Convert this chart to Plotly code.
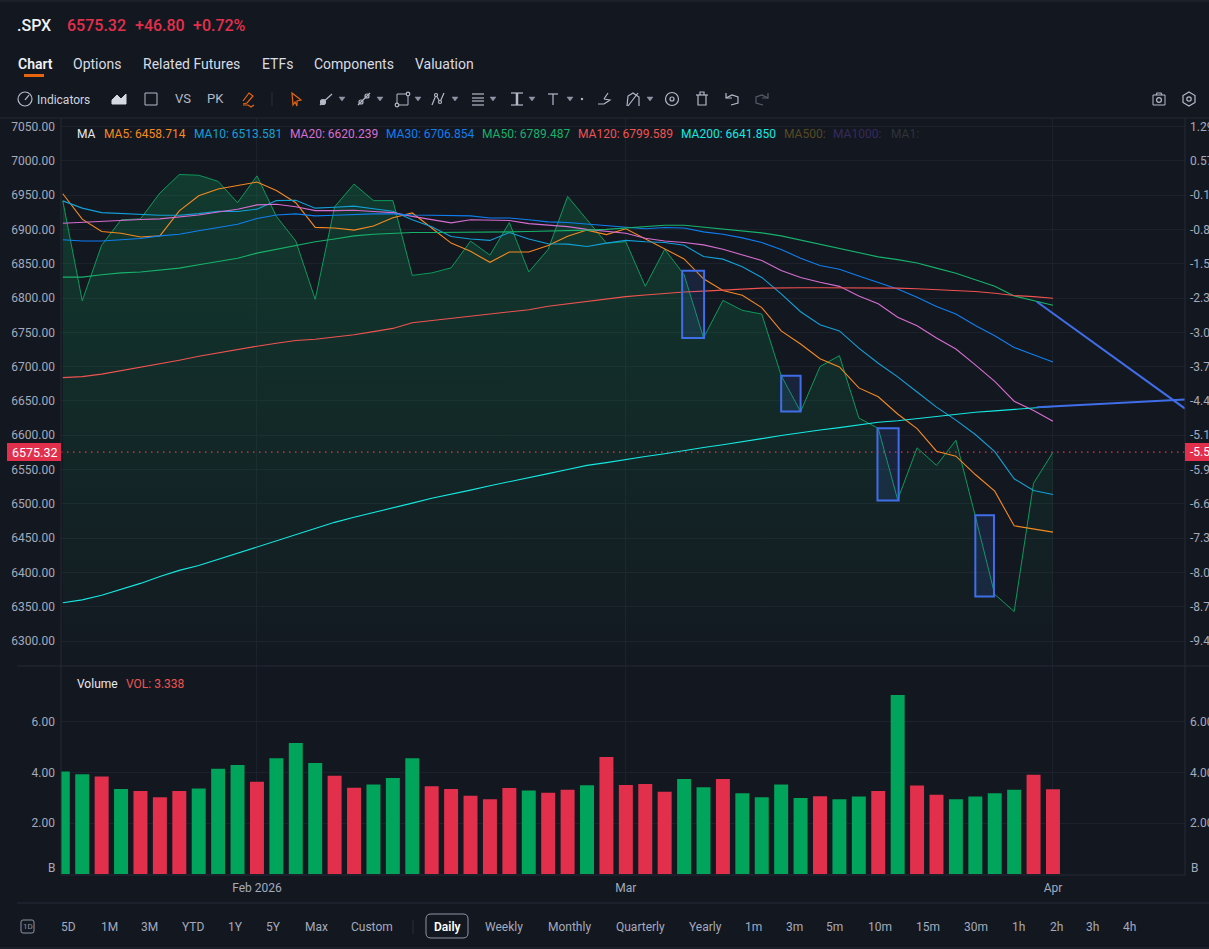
import plotly.graph_objects as go
from plotly.subplots import make_subplots

# handelstage, 16. jan bis 1. apr 2026
dates = ["2026-01-16", "2026-01-20", "2026-01-21", "2026-01-22", "2026-01-23", "2026-01-26", "2026-01-27", "2026-01-28",
         "2026-01-29", "2026-01-30", "2026-02-02", "2026-02-03", "2026-02-04", "2026-02-05", "2026-02-06", "2026-02-09",
         "2026-02-10", "2026-02-11", "2026-02-12", "2026-02-13", "2026-02-17", "2026-02-18", "2026-02-19", "2026-02-20",
         "2026-02-23", "2026-02-24", "2026-02-25", "2026-02-26", "2026-02-27", "2026-03-02", "2026-03-03", "2026-03-04",
         "2026-03-05", "2026-03-06", "2026-03-09", "2026-03-10", "2026-03-11", "2026-03-12", "2026-03-13", "2026-03-16",
         "2026-03-17", "2026-03-18", "2026-03-19", "2026-03-20", "2026-03-23", "2026-03-24", "2026-03-25", "2026-03-26",
         "2026-03-27", "2026-03-30", "2026-03-31", "2026-04-01"]

close = [6941.6, 6796, 6877, 6914, 6915.4, 6953, 6980, 6979, 6970, 6939, 6978, 6919, 6883, 6798, 6933, 6966, 6942, 6942,
         6833, 6836.6, 6844, 6883, 6862.5, 6910, 6838, 6871, 6948, 6914, 6880, 6882, 6817, 6871, 6834, 6742, 6796.5, 6782,
         6776.6, 6687, 6634.4, 6700, 6716, 6625, 6610, 6506, 6581.6, 6556, 6592.7, 6482, 6368, 6343, 6530, 6575.32]
ma5 = [6952, 6915, 6897, 6894.5, 6889, 6890.6, 6927, 6949, 6959, 6964, 6969, 6956.6, 6939, 6903, 6902, 6899, 6905, 6917,
       6924, 6902, 6880, 6868, 6852, 6867, 6867, 6876.5, 6890, 6899, 6892.5, 6901, 6886, 6872, 6857, 6828, 6811, 6804,
       6786, 6752, 6733, 6711.6, 6699.5, 6669, 6656, 6631, 6609.7, 6576.7, 6569.5, 6542.7, 6518.4, 6468, 6463.6, 6458.714]
ma10 = [6941.6, 6931, 6924.5, 6923, 6922.6, 6920.7, 6920.7, 6923, 6926.5, 6926, 6929.5, 6942, 6942.6, 6931, 6932.4, 6934,
        6930, 6926.5, 6914, 6904, 6889.6, 6886, 6884, 6895.5, 6886, 6879, 6878.5, 6875, 6880, 6884, 6882, 6881, 6877,
        6860.5, 6856.7, 6845.7, 6830, 6806, 6780, 6761, 6752, 6727, 6705, 6685, 6663, 6641, 6622, 6601, 6576, 6536.5,
        6519.5, 6513.581]
ma20 = [6909, 6910.5, 6911.5, 6914, 6914.4, 6915.4, 6918, 6921, 6925.5, 6929.5, 6935.7, 6936.7, 6933, 6927.4, 6927.4, 6928,
        6926, 6924.5, 6919, 6914, 6909.5, 6914, 6913.5, 6913, 6908.5, 6906, 6904, 6900, 6897, 6894.5, 6887, 6883, 6881,
        6877.5, 6871, 6863, 6854.7, 6840, 6830, 6823, 6817, 6803, 6791.6, 6772, 6759.6, 6741.7, 6725.6, 6702.6, 6678.5,
        6649.6, 6636, 6620.239]
ma30 = [6885, 6883, 6883, 6884.5, 6886.7, 6890.6, 6893, 6898, 6903, 6907.6, 6916, 6921, 6922.6, 6919.7, 6920.7, 6922,
        6922.6, 6922.6, 6921, 6920.7, 6920, 6919.7, 6916.7, 6916.7, 6914, 6911, 6910, 6908, 6906, 6903.6, 6901, 6902.7,
        6902, 6896.4, 6893, 6887.7, 6881, 6870.7, 6858, 6847.4, 6842, 6832, 6822.7, 6813, 6801, 6787.7, 6776.6, 6760,
        6745, 6728, 6717.4, 6706.854]
ma50 = [6830.5, 6830.5, 6834, 6836.7, 6838, 6840.6, 6843.6, 6848.4, 6853, 6858, 6865.4, 6871, 6877, 6882, 6886, 6890.6,
        6893, 6894.5, 6895.5, 6895.5, 6895.5, 6896, 6896, 6896.4, 6897, 6897.5, 6897.5, 6899, 6900, 6902, 6904, 6906, 6906,
        6903, 6901, 6898, 6895, 6890.6, 6884.5, 6879, 6873, 6866.6, 6860, 6856, 6851, 6843.6, 6836, 6826.6, 6817, 6803,
        6796, 6789.487]
ma120 = [6684, 6685.4, 6689, 6694, 6698.5, 6704, 6709.4, 6715, 6720.3, 6724.7, 6729.8, 6734, 6738, 6740, 6743, 6746.5, 6751,
         6755.7, 6764, 6767, 6771, 6773.6, 6777, 6780, 6783, 6788, 6791.6, 6795.5, 6799, 6802, 6804.4, 6807, 6808.7, 6810,
         6812, 6813, 6814.4, 6815, 6815, 6815, 6815, 6815, 6815, 6814.4, 6813.4, 6812.4, 6811, 6809.6, 6807, 6803.7, 6802,
         6799.589]
ma200 = [6355.7, 6360, 6366.6, 6375.3, 6384, 6394, 6403, 6410, 6419, 6428, 6438, 6447, 6455.4, 6464, 6473, 6480.5, 6487,
         6494.6, 6501, 6508, 6513.7, 6520, 6526.4, 6532, 6538, 6544, 6550, 6556, 6560, 6565, 6569, 6573, 6578, 6582, 6586,
         6591, 6595, 6599.5, 6604, 6607.5, 6611, 6614.5, 6619, 6621, 6624, 6628, 6630.6, 6633.5, 6635.5, 6637.4, 6640,
         6641.85]

volume = [4.04, 3.93, 3.84, 3.35, 3.27, 3.02, 3.27, 3.37, 4.14, 4.29, 3.63, 4.56, 5.16, 4.37, 3.87, 3.40, 3.52, 3.78, 4.56,
          3.45, 3.35, 3.08, 2.94, 3.39, 3.29, 3.20, 3.32, 3.49, 4.61, 3.50, 3.54, 3.24, 3.74, 3.42, 3.74, 3.18, 3.02, 3.52,
          2.99, 3.06, 2.94, 3.05, 3.27, 7.05, 3.48, 3.12, 2.94, 3.05, 3.18, 3.32, 3.91, 3.338]
vol_side = list("GGRGRRRGGGRGGGRRGGGRRRRRGRRG" + "RRRRGGRGGGGRGGRGRRGGGGRR")

price_ticks = [7050, 7000, 6950, 6900, 6850, 6800, 6750, 6700, 6650, 6600, 6550, 6500, 6450, 6400, 6350, 6300]
pct_labels = ["1.29%", "0.57%", "-0.15%", "-0.86%", "-1.58%", "-2.30%", "-3.02%", "-3.74%", "-4.46%", "-5.17%", "-5.90%",
              "-6.61%", "-7.33%", "-8.05%", "-8.77%", "-9.48%"]
vol_ticks = [2, 4, 6]
last_pct = "-5.53%"

# eingezeichnete kästen und trendlinien
box_start = [31.9, 37.0, 41.96, 47.0]
box_end = [33.03, 38.0, 43.05, 47.96]
box_top = [6839.7, 6686.8, 6610, 6483.5]
box_bottom = [6741.7, 6634.5, 6504.9, 6365]
trend_x = [[50.17, 57.8], [50.17, 57.8]]
trend_y = [[6794.5, 6638.8], [6640.7, 6652]]

# legende
ma_names = ["MA5", "MA10", "MA20", "MA30", "MA50", "MA120", "MA200"]
ma_series = [ma5, ma10, ma20, ma30, ma50, ma120, ma200]
ma_colors = ["#f58a1f", "#12a0d7", "#d66ed1", "#0f7ff0", "#16b26b", "#ef5350", "#14e9e2"]
ma_label_x = [104, 194, 290, 386, 482, 578, 681]
off_names = ["MA500:", "MA1000:", "MA1:"]
off_colors = ["#574a22", "#352b5c", "#30333a"]
off_label_x = [784, 833, 891]

tabs = ["Chart", "Options", "Related Futures", "ETFs", "Components", "Valuation"]
tab_x = [18, 73, 143, 262, 314, 415]
ranges = ["5D", "1M", "3M", "YTD", "1Y", "5Y", "Max", "Custom", "Daily", "Weekly", "Monthly", "Quarterly", "Yearly",
          "1m", "3m", "5m", "10m", "15m", "30m", "1h", "2h", "3h", "4h"]
range_x = [68, 109, 149, 193, 235, 273, 316, 372, 447, 504, 569, 640, 705, 753, 794, 835, 880, 928, 976, 1018, 1056, 1092, 1129]

BG = "#131720"
GRID = "#1c212b"
EDGE = "#262b36"
TEXT = "#a3abbd"
RED = "#e2304c"
GREEN = "#00a45a"
BLUE = "#3f6ee8"
ORANGE = "#e8650f"

W, H = 1209, 949
L, R, T, B = 61, 1185, 118, 875
SPLIT = 666

bar_index = list(range(len(dates)))
tick_pos = [dates.index("2026-02-02"), dates.index("2026-03-02"), dates.index("2026-04-01")]
x_range = [-0.093, 57.8]
y_range = [6263.6, 7062.4]
v_range = [-0.04, 8.19]


def px(x):
    return (x - L) / (R - L)


def py(y):
    return (B - y) / (B - T)


def text(s, x, y, color=TEXT, size=12, anchor="left", weight=None):
    return dict(text=s, x=px(x), y=py(y), xref="paper", yref="paper", xanchor=anchor, yanchor="middle", showarrow=False,
                borderpad=0, borderwidth=0, font=dict(color=color, size=size, family="Roboto", weight=weight))


def poly(points, color=TEXT, width=1.2, fill=None, closed=False):
    d = "M " + " L ".join(f"{px(a):.5f},{py(b):.5f}" for a, b in points) + (" Z" if closed else "")
    return dict(type="path", path=d, xref="paper", yref="paper", line=dict(color=color, width=width),
                fillcolor=fill or "rgba(0,0,0,0)", layer="above")


def rect(x0, y0, x1, y1, color=None, fill=None, width=1):
    return dict(type="rect", x0=px(x0), x1=px(x1), y0=py(y0), y1=py(y1), xref="paper", yref="paper",
                line=dict(color=color or "rgba(0,0,0,0)", width=width), fillcolor=fill or "rgba(0,0,0,0)", layer="above")


def round_rect(x0, y0, x1, y1, r, color):
    p = lambda a, b: f"{px(a):.5f},{py(b):.5f}"
    d = (f"M {p(x0 + r, y0)} L {p(x1 - r, y0)} Q {p(x1, y0)} {p(x1, y0 + r)} L {p(x1, y1 - r)} Q {p(x1, y1)} {p(x1 - r, y1)} "
         f"L {p(x0 + r, y1)} Q {p(x0, y1)} {p(x0, y1 - r)} L {p(x0, y0 + r)} Q {p(x0, y0)} {p(x0 + r, y0)} Z")
    return dict(type="path", path=d, xref="paper", yref="paper", line=dict(color=color, width=1), layer="above")


def circle(cx, cy, r, color=TEXT, fill=None, width=1.2):
    return dict(type="circle", x0=px(cx - r), x1=px(cx + r), y0=py(cy + r), y1=py(cy - r), xref="paper", yref="paper",
                line=dict(color=color, width=width), fillcolor=fill or "rgba(0,0,0,0)", layer="above")


def caret(x, y=99):
    return poly([(x - 3, y - 2), (x + 3, y - 2), (x, y + 2)], color="#8d95a6", width=0.5, fill="#8d95a6", closed=True)


fig = make_subplots(rows=2, cols=1, shared_xaxes=True, vertical_spacing=0, row_heights=[SPLIT - T, B - SPLIT],
                    specs=[[{"secondary_y": True}], [{"secondary_y": True}]])

# fläche unter dem kurs
fig.add_trace(go.Scatter(x=bar_index, y=[y_range[0]] * len(bar_index), mode="lines", line=dict(width=0), hoverinfo="skip"),
              row=1, col=1)
fig.add_trace(go.Scatter(x=bar_index, y=close, mode="lines", name=".SPX", line=dict(color="#0b9a5b", width=1), fill="tonexty",
                         fillgradient=dict(type="vertical", start=6980, stop=y_range[0],
                                           colorscale=[[0, "rgba(14,160,90,0.26)"], [0.5, "rgba(14,160,90,0.13)"],
                                                       [1, "rgba(14,160,90,0.01)"]])),
              row=1, col=1)

for name, series, color in zip(ma_names, ma_series, ma_colors):
    fig.add_trace(go.Scatter(x=bar_index, y=series, mode="lines", name=name, line=dict(color=color, width=1.1)), row=1, col=1)

for xs, ys in zip(trend_x, trend_y):
    fig.add_trace(go.Scatter(x=xs, y=ys, mode="lines", line=dict(color=BLUE, width=2), hoverinfo="skip"), row=1, col=1)

# leere spuren, damit die rechten achsen gezeichnet werden
fig.add_trace(go.Scatter(x=bar_index, y=close, mode="lines", line=dict(width=0), hoverinfo="skip"), row=1, col=1, secondary_y=True)

fig.add_trace(go.Bar(x=bar_index, y=volume, name="Volume", marker=dict(color=[GREEN if s == "G" else RED for s in vol_side],
                                                                       line=dict(width=0))), row=2, col=1)
fig.add_trace(go.Scatter(x=bar_index, y=volume, mode="lines", line=dict(width=0), hoverinfo="skip"), row=2, col=1, secondary_y=True)

axis_font = dict(color=TEXT, size=12, family="Roboto")
fig.update_xaxes(domain=[0, 1], range=x_range, tickvals=tick_pos, ticktext=["Feb 2026", "Mar", "Apr"], showgrid=True, gridcolor=GRID,
                 gridwidth=1, zeroline=False, ticks="", tickfont=axis_font, showline=False, ticklabelstandoff=4)
fig.update_yaxes(range=y_range, tickvals=price_ticks, ticktext=[f"{p:.2f}" for p in price_ticks], gridcolor=GRID, zeroline=False,
                 tickfont=axis_font, ticks="", ticklabelstandoff=5, row=1, col=1, secondary_y=False)
fig.update_yaxes(range=y_range, tickvals=price_ticks, ticktext=pct_labels, showgrid=False, zeroline=False, tickfont=axis_font,
                 ticks="", ticklabelstandoff=4, row=1, col=1, secondary_y=True)
fig.update_yaxes(range=v_range, tickvals=vol_ticks, ticktext=[f"{v:.2f}" for v in vol_ticks], gridcolor=GRID, zeroline=False,
                 tickfont=axis_font, ticks="", ticklabelstandoff=5, row=2, col=1, secondary_y=False)
fig.update_yaxes(range=v_range, tickvals=vol_ticks, ticktext=[f"{v:.2f}" for v in vol_ticks], showgrid=False, zeroline=False,
                 tickfont=axis_font, ticks="", ticklabelstandoff=4, row=2, col=1, secondary_y=True)

shapes = []
for x0, x1, y0, y1 in zip(box_start, box_end, box_top, box_bottom):
    shapes.append(dict(type="rect", xref="x", yref="y", x0=x0, x1=x1, y0=y0, y1=y1, line=dict(color=BLUE, width=2),
                       fillcolor="rgba(63,110,232,0.14)", layer="above"))
shapes.append(dict(type="line", xref="x", yref="y", x0=x_range[0], x1=x_range[1], y0=close[-1], y1=close[-1],
                   line=dict(color="#f0304e", width=1.2, dash="1.5px,4.5px"), layer="above"))

# rahmen
shapes += [
    poly([(0, 1), (W, 1)], EDGE, 1), poly([(0, T), (W, T)], EDGE, 1), poly([(17, SPLIT), (W, SPLIT)], EDGE, 1),
    poly([(L, B), (R, B)], EDGE, 1), poly([(17, 903), (W, 903)], EDGE, 1), poly([(L, T), (L, B)], EDGE, 1),
    poly([(R, T), (R, B)], EDGE, 1), poly([(0, 948), (W, 948)], EDGE, 1),
    rect(24, 74, 44, 77, fill=ORANGE),
    rect(7, 443, L, 461, fill=RED), rect(R, 443, W, 461, fill=RED),
]

# werkzeugleiste
IC = "#b4bac7"
shapes += [
    circle(25, 99, 7, IC), poly([(25, 100), (29, 95)], IC),
    poly([(112, 104), (112, 100), (117, 95), (121, 99), (126, 94), (126, 104)], "#d5d9e2", 1, "#d5d9e2", True),
    rect(145, 93, 157, 105, IC),
    poly([(243, 105), (248, 105), (251, 107), (254, 105)], ORANGE), poly([(243, 101), (249, 93), (253, 96), (247, 103), (243, 104)], ORANGE),
    poly([(272, 92), (272, 106)], EDGE),
    poly([(292, 93), (301, 100), (297, 101), (297, 106), (295, 102), (293, 105)], ORANGE, 1.2, None, True),
    poly([(320, 105), (332, 94)], IC), circle(323, 102, 2.5, IC, IC), caret(342),
    poly([(358, 105), (370, 93)], IC), circle(361, 102, 2, IC), circle(367, 96, 2, IC), caret(380),
    rect(397, 94, 408, 105, IC), circle(397, 105, 1.8, IC, BG), circle(408, 94, 1.8, IC, BG), caret(418),
    poly([(432, 105), (436, 95), (440, 102), (444, 93)], IC), circle(436, 95, 1.5, IC, BG), circle(440, 102, 1.5, IC, BG), caret(455),
    poly([(472, 94), (484, 94)], IC), poly([(472, 98), (484, 98)], IC), poly([(472, 101), (484, 101)], IC), poly([(472, 105), (484, 105)], IC), caret(493),
    poly([(511, 93), (523, 93)], IC), poly([(511, 105), (523, 105)], IC), poly([(517, 93), (517, 105)], IC, 2.5), caret(532),
    poly([(548, 94), (558, 94)], IC), poly([(553, 94), (553, 105)], IC), caret(570),
    circle(582, 99, 0.6, IC, IC),
    poly([(598, 104), (604, 104), (610, 100), (604, 99)], IC), poly([(604, 99), (608, 93)], IC), caret(650),
    poly([(627, 106), (628, 96), (633, 93), (639, 97), (639, 106)], IC), poly([(628, 106), (638, 93)], IC),
    circle(672, 99, 6.5, IC), circle(672, 99, 2, IC),
    poly([(696, 95), (708, 95)], IC), poly([(698, 95), (698, 105), (706, 105), (706, 95)], IC), poly([(700, 95), (700, 92), (704, 92), (704, 95)], IC),
    poly([(726, 93), (726, 98), (732, 98)], IC), poly([(726, 98), (732, 95), (738, 97), (738, 103), (731, 105)], IC),
    poly([(768, 93), (768, 98), (762, 98)], "#565c69"), poly([(768, 98), (762, 95), (756, 97), (756, 103), (763, 105)], "#565c69"),
    rect(1153, 95, 1165, 105, IC), circle(1159, 100, 2.4, IC), poly([(1156, 95), (1157, 93), (1161, 93), (1162, 95)], IC),
    poly([(1189, 92), (1195, 95.5), (1195, 102.5), (1189, 106), (1183, 102.5), (1183, 95.5)], IC, 1.2, None, True), circle(1189, 99, 2.2, IC),
    round_rect(21, 920, 34, 933, 2, "#8d95a6"), poly([(413, 920), (413, 934)], EDGE),
    round_rect(426, 914, 468, 938, 5, "#8d95a6"),
]

notes = [
    text(".SPX", 17, 25, "#f0f2f6", 16, weight=500),
    text("6575.32", 67, 25, RED, 16, weight=500),
    text("+46.80", 135, 25, RED, 16, weight=500),
    text("+0.72%", 193, 25, RED, 16, weight=500),
    text("Indicators", 37, 100, "#d0d4dd", 12),
    text("VS", 183, 99, IC, 13, "center"),
    text("PK", 215, 99, IC, 13, "center"),
    text("MA", 77, 134, "#e6e9ef", 12),
    text("Volume", 77, 684, "#e6e9ef", 12),
    text(f"VOL: {volume[-1]:.3f}", 126, 684, "#ef5350", 12),
    text(f"{close[-1]:.2f}", 34, 452, "#ffffff", 12.5, "center"),
    text(last_pct, 1190, 452, "#ffffff", 12),
    text("B", 55, 868, TEXT, 12, "right"),
    text("B", 1191, 868, TEXT, 12),
    text("1D", 27.5, 926.5, "#8d95a6", 8, "center"),
]
for name, series, color, x in zip(ma_names, ma_series, ma_colors, ma_label_x):
    notes.append(text(f"{name}: {series[-1]:.3f}", x, 134, color, 12))
for name, color, x in zip(off_names, off_colors, off_label_x):
    notes.append(text(name, x, 134, color, 12))
for name, x in zip(tabs, tab_x):
    notes.append(text(name, x, 64, "#f0f2f6" if name == "Chart" else "#d8dce4", 14, weight=600 if name == "Chart" else None))
for name, x in zip(ranges, range_x):
    notes.append(text(name, x, 927, "#ffffff" if name == "Daily" else TEXT, 12, "center", weight=600 if name == "Daily" else None))

fig.update_layout(width=W, height=H, margin=dict(l=L, r=W - R, t=T, b=H - B, autoexpand=False), paper_bgcolor=BG, plot_bgcolor=BG,
                  showlegend=False, bargap=0.28, shapes=shapes, annotations=notes, font=dict(family="Roboto", color=TEXT))

fig.write_html("out.html", config=dict(displayModeBar=False),
               post_script="document.body.style.margin='0';document.body.style.overflow='hidden';document.body.style.background='" + BG + "';")
